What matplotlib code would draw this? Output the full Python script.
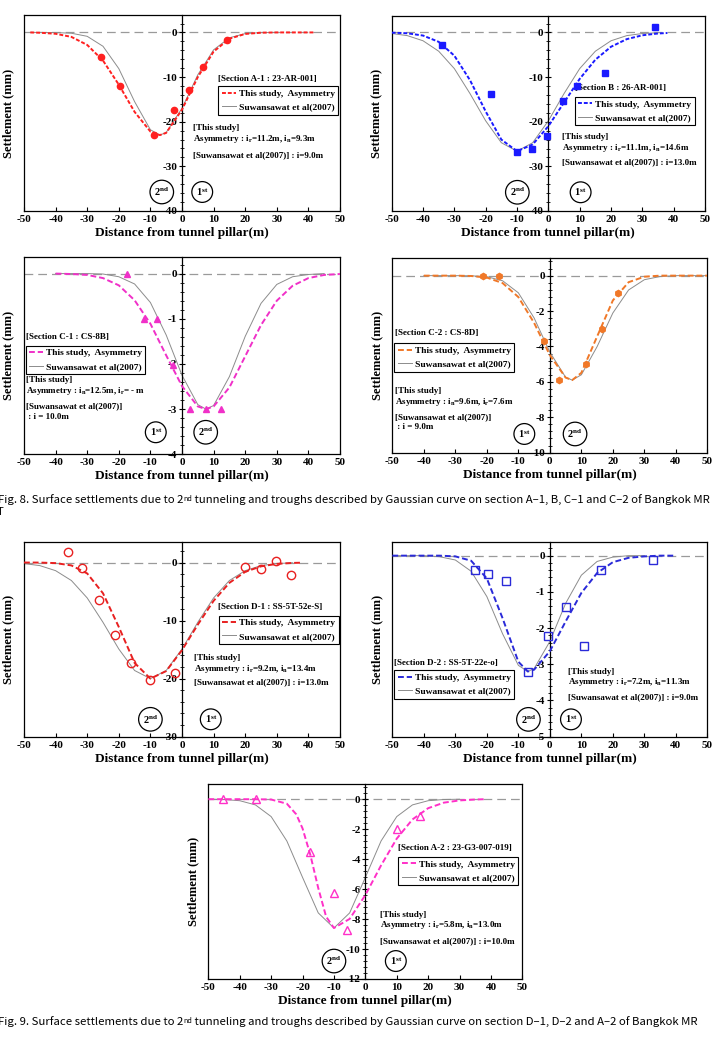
import matplotlib
matplotlib.use('Agg')
import matplotlib.pyplot as plt
from matplotlib.ticker import MultipleLocator
from matplotlib.text import Annotation

# ---- data ----
# Section A-1
a1_pts_x = [-25.6, -19.6, -8.9, -2.4, 2.3, 6.5, 14.3]
a1_pts_y = [-5.6, -11.9, -22.9, -17.3, -12.8, -7.8, -1.8]
a1_fit_x = [-48, -45, -40, -35, -30, -25, -20, -15, -10, -7, -5, 0, 5, 10, 15, 20, 25, 30, 35, 42]
a1_fit_y = [0, -0.07, -0.3, -1.0, -2.8, -6.3, -11.7, -17.8, -22.2, -23.0, -22.5, -17.3, -10.0, -4.3, -1.4, -0.34, -0.06, 0, 0, 0]
a1_ref_x = [-48, -45, -40, -35, -30, -25, -20, -15, -10, -7, -5, 0, 5, 10, 15, 20, 25, 30]
a1_ref_y = [0, 0, -0.03, -0.18, -0.87, -3.1, -8.1, -15.5, -21.8, -23.0, -22.4, -17.0, -9.5, -3.9, -1.2, -0.26, -0.04, 0]

# Section B
b_pts_x = [-34.0, -18.4, -10.0, -5.3, -0.3, 4.6, 9.3, 18.2, 34.0]
b_pts_y = [-2.7, -13.7, -26.8, -26.1, -23.2, -15.3, -11.9, -9.0, 1.3]
b_fit_x = [-50, -45, -40, -35, -30, -25, -20, -15, -10, -5, 0, 5, 10, 15, 20, 25, 30, 35, 38]
b_fit_y = [-0.04, -0.18, -0.69, -2.1, -5.2, -10.7, -17.7, -24.0, -26.6, -25.1, -21.0, -15.7, -10.4, -6.1, -3.2, -1.5, -0.63, -0.23, -0.12]
b_ref_x = [-50, -45, -40, -35, -30, -25, -20, -15, -10, -5, 0, 5, 10, 15, 20, 25, 30, 35]
b_ref_y = [-0.23, -0.71, -1.86, -4.2, -8.1, -13.7, -19.8, -24.7, -26.6, -24.7, -19.8, -13.7, -8.1, -4.2, -1.86, -0.71, -0.23, -0.07]

# Section C-1
c1_pts_x = [-17.5, -12.0, -7.8, -2.7, 2.5, 7.6, 12.4]
c1_pts_y = [0, -1.0, -1.0, -2.02, -3.0, -3.0, -3.0]
c1_fit_x = [-40, -35, -30, -25, -20, -15, -10, -5, 0, 5, 7.6, 10, 15, 20, 25, 30, 35, 40, 45, 50]
c1_fit_y = [0, -0.01, -0.03, -0.10, -0.26, -0.59, -1.11, -1.81, -2.49, -2.94, -3.0, -2.94, -2.52, -1.83, -1.14, -0.60, -0.27, -0.10, -0.03, -0.01]
c1_ref_x = [-40, -35, -30, -25, -20, -15, -10, -5, 0, 5, 7.6, 10, 15, 20, 25, 30, 35, 40, 45]
c1_ref_y = [0, 0, 0, -0.01, -0.07, -0.23, -0.64, -1.36, -2.25, -2.90, -3.0, -2.92, -2.28, -1.39, -0.66, -0.24, -0.07, -0.02, 0]

# Section C-2
c2_pts_x = [-21.3, -16.1, -1.8, 2.8, 11.6, 16.5, 21.6]
c2_pts_y = [0, 0, -3.69, -5.91, -5.0, -3.0, -1.0]
c2_fit_x = [-40, -35, -30, -25, -20, -15, -10, -5, 0, 5, 7.1, 10, 15, 20, 25, 30, 35, 40, 45, 50]
c2_fit_y = [0, 0, 0, -0.02, -0.11, -0.42, -1.21, -2.67, -4.49, -5.76, -5.9, -5.49, -3.44, -1.40, -0.37, -0.06, 0, 0, 0, 0]
c2_ref_x = [-40, -35, -30, -25, -20, -15, -10, -5, 0, 5, 7.1, 10, 15, 20, 25, 30, 35, 40, 45, 50]
c2_ref_y = [0, 0, 0, -0.01, -0.06, -0.29, -0.97, -2.39, -4.32, -5.74, -5.9, -5.60, -4.01, -2.11, -0.81, -0.23, -0.05, 0, 0, 0]

# Section D-1
d1_pts_x = [-36.0, -31.6, -26.4, -21.2, -16.1, -10.0, -2.1, 19.9, 24.9, 29.7, 34.4]
d1_pts_y = [1.84, -0.92, -6.4, -12.5, -17.3, -20.2, -19.0, -0.69, -1.15, 0.29, -2.07]
d1_fit_x = [-50, -45, -40, -35, -30, -25, -20, -15, -10, -5, 0, 5, 10, 15, 20, 25, 30, 35, 38]
d1_fit_y = [0, -0.01, -0.10, -0.50, -1.88, -5.3, -11.1, -17.3, -20.0, -18.7, -15.1, -10.7, -6.6, -3.5, -1.6, -0.66, -0.23, -0.07, -0.03]
d1_ref_x = [-50, -45, -40, -35, -30, -25, -20, -15, -10, -5, 0, 5, 10, 15, 20, 25, 30, 35]
d1_ref_y = [-0.18, -0.53, -1.40, -3.1, -6.1, -10.3, -14.9, -18.6, -20.0, -18.6, -14.9, -10.3, -6.1, -3.1, -1.40, -0.53, -0.18, -0.05]

# Section D-2
d2_pts_x = [-23.7, -19.7, -13.8, -6.8, -0.7, 5.1, 10.7, 16.2, 32.6]
d2_pts_y = [-0.40, -0.51, -0.70, -3.21, -2.21, -1.41, -2.50, -0.40, -0.11]
d2_fit_x = [-50, -45, -40, -35, -30, -25, -20, -15, -10, -7, -5, 0, 5, 10, 15, 20, 25, 30, 35, 40]
d2_fit_y = [0, 0, 0, 0, -0.02, -0.14, -0.63, -1.73, -2.93, -3.2, -3.15, -2.64, -1.82, -1.03, -0.48, -0.18, -0.06, -0.02, 0, 0]
d2_ref_x = [-50, -45, -40, -35, -30, -25, -20, -15, -10, -7, -5, 0, 5, 10, 15, 20, 25, 30]
d2_ref_y = [0, 0, 0, -0.03, -0.12, -0.43, -1.13, -2.16, -3.03, -3.2, -3.12, -2.37, -1.32, -0.54, -0.16, -0.04, 0, 0]

# Section A-2
a2_pts_x = [-45.2, -34.9, -17.5, -10.1, -5.9, 10.0, 17.4]
a2_pts_y = [0, 0, -3.53, -6.24, -8.71, -2.02, -1.11]
a2_fit_x = [-50, -45, -40, -35, -30, -25, -22, -20, -17.5, -15, -12.5, -10, -5, 0, 5, 10, 15, 20, 25, 30, 35, 38]
a2_fit_y = [0, 0, 0, 0, -0.02, -0.30, -1.01, -1.95, -3.73, -5.93, -7.84, -8.6, -7.99, -6.40, -4.42, -2.63, -1.35, -0.60, -0.23, -0.08, -0.02, 0]
a2_ref_x = [-50, -45, -40, -35, -30, -25, -20, -15, -10, -5, 0, 5, 10, 15, 20, 25, 30]
a2_ref_y = [0, -0.02, -0.10, -0.38, -1.16, -2.79, -5.22, -7.59, -8.6, -7.59, -5.22, -2.79, -1.16, -0.38, -0.10, -0.02, 0]

x_ticks = [-50, -40, -30, -20, -10, 0, 10, 20, 30, 40, 50]
leg_labels = ['This study,  Asymmetry', 'Suwansawat et al(2007)']

plt.rcParams['font.family'] = ['Liberation Serif', 'DejaVu Serif']
plt.rcParams['font.weight'] = 'bold'
plt.rcParams['axes.unicode_minus'] = False
plt.rcParams['mathtext.fontset'] = 'custom'
plt.rcParams['mathtext.rm'] = 'Liberation Serif:bold'
plt.rcParams['mathtext.bf'] = 'Liberation Serif:bold'
plt.rcParams['mathtext.it'] = 'Liberation Serif:italic:bold'

fig = plt.figure(figsize=(7.14, 10.43), dpi=100)

ND = r'2$^{\mathrm{nd}}$'
ST = r'1$^{\mathrm{st}}$'


def draw(rect, ylim, step, px, py, fx, fy, rx, ry, color, marker, filled,
         dash, section, sec_pos, leg_pos, notes, note_x, note_y, circ, circ_y):
    ax = fig.add_axes(rect)
    ax.set_xlim(-50, 50)
    ax.set_ylim(*ylim)
    ax.axhline(0, color='#9a9a9a', lw=0.9, ls=(0, (7, 4)), zorder=1)
    l_ref, = ax.plot(rx, ry, color='#8c8c8c', lw=0.7, zorder=2)
    l_fit, = ax.plot(fx, fy, color=color, lw=1.4, ls=(0, dash), zorder=3)
    if filled:
        ax.plot(px, py, ls='none', marker=marker, ms=4.5, mfc=color, mec=color, zorder=4)
    else:
        ax.plot(px, py, ls='none', marker=marker, ms=6, mfc='none', mec=color, mew=1.0, zorder=4)

    # y axis sits on x = 0, the frame is drawn around
    ax.spines['left'].set_position(('data', 0))
    for s in ax.spines.values():
        s.set_linewidth(0.9)
    ax.plot([0, 0], [0, 1], transform=ax.transAxes, color='k', lw=0.9, clip_on=False)
    ax.set_xticks(x_ticks)
    ax.yaxis.set_major_locator(MultipleLocator(step))
    ax.yaxis.set_minor_locator(MultipleLocator(step / 5))
    ax.tick_params(axis='x', direction='in', length=3, labelsize=8, pad=3)
    ax.tick_params(axis='y', which='major', direction='inout', length=5, labelsize=8, pad=1)
    ax.tick_params(axis='y', which='minor', direction='inout', length=3)
    for lab in ax.get_xticklabels() + ax.get_yticklabels():
        lab.set_fontweight('bold')
    ax.set_xlabel('Distance from tunnel pillar(m)', fontsize=9.5, fontweight='bold', labelpad=2)
    ax.set_ylabel('Settlement (mm)', fontsize=9, fontweight='bold')
    ax.yaxis.set_label_coords(-0.03, 0.5)

    ax.text(sec_pos[0], sec_pos[1], section, transform=ax.transAxes,
            fontsize=6.5, fontweight='bold', va='center', ha='left')
    leg = ax.legend([l_fit, l_ref], leg_labels, loc='upper left', bbox_to_anchor=leg_pos,
                    borderaxespad=0, fancybox=False, edgecolor='k', framealpha=1,
                    prop={'size': 6.8, 'weight': 'bold'}, handlelength=1.5, handletextpad=0.3,
                    labelspacing=0.5, borderpad=0.35)
    leg.get_frame().set_linewidth(0.8)
    for t, yy in zip(notes, note_y):
        ax.text(note_x, yy, t, transform=ax.transAxes, fontsize=6.5, fontweight='bold',
                va='center', ha='left')
    for t, xx in circ:
        ax.text(xx, circ_y, t, transform=ax.transAxes, fontsize=7.5, fontweight='bold',
                ha='center', va='center',
                bbox=dict(boxstyle='circle,pad=0.4', fc='white', ec='k', lw=0.9))
    return ax


draw([0.0336, 0.7977, 0.4426, 0.1879], (-40, 3.9), 10, a1_pts_x, a1_pts_y, a1_fit_x, a1_fit_y,
     a1_ref_x, a1_ref_y, '#ff2020', 'o', True, (2, 1), '[Section A-1 : 23-AR-001]',
     (0.615, 0.675), (0.615, 0.638),
     ['[This study]', r'Asymmetry : i$_\mathrm{r}$=11.2m, i$_\mathrm{n}$=9.3m',
      '[Suwansawat et al(2007)] : i=9.0m'], 0.536, [0.425, 0.366, 0.286],
     [(ND, 0.436), (ST, 0.564)], 0.097)

draw([0.5486, 0.7977, 0.4388, 0.1870], (-40, 3.7), 10, b_pts_x, b_pts_y, b_fit_x, b_fit_y,
     b_ref_x, b_ref_y, '#1a1aff', 's', True, (2, 1), '[Section B : 26-AR-001]',
     (0.585, 0.629), (0.585, 0.586),
     ['[This study]', r'Asymmetry : i$_\mathrm{r}$=11.1m, i$_\mathrm{n}$=14.6m',
      '[Suwansawat et al(2007)] : i=13.0m'], 0.545, [0.381, 0.321, 0.248],
     [(ND, 0.401), (ST, 0.603)], 0.096)

draw([0.0336, 0.5644, 0.4426, 0.1889], (-4, 0.36), 1, c1_pts_x, c1_pts_y, c1_fit_x, c1_fit_y,
     c1_ref_x, c1_ref_y, '#f030c8', '^', True, (3, 1.5), '[Section C-1 : CS-8B]',
     (0.006, 0.596), (0.006, 0.552),
     ['[This study]', r'Asymmetry : i$_\mathrm{n}$=12.5m, i$_\mathrm{r}$= - m',
      '[Suwansawat et al(2007)]', ' : i = 10.0m'], 0.006, [0.376, 0.323, 0.242, 0.190],
     [(ST, 0.417), (ND, 0.575)], 0.112)

draw([0.5495, 0.5660, 0.4412, 0.1867], (-10, 1.0), 2, c2_pts_x, c2_pts_y, c2_fit_x, c2_fit_y,
     c2_ref_x, c2_ref_y, '#f07828', 'h', True, (3, 1.5), '[Section C-2 : CS-8D]',
     (0.008, 0.613), (0.006, 0.562),
     ['[This study]', r'Asymmetry : i$_\mathrm{n}$=9.6m, i$_\mathrm{r}$=7.6m',
      '[Suwansawat et al(2007)]', ' : i = 9.0m'], 0.008, [0.318, 0.262, 0.180, 0.130],
     [(ST, 0.419), (ND, 0.580)], 0.096)

draw([0.0336, 0.2937, 0.4426, 0.1870], (-30, 3.6), 10, d1_pts_x, d1_pts_y, d1_fit_x, d1_fit_y,
     d1_ref_x, d1_ref_y, '#e82020', 'o', False, (3, 1.5), '[Section D-1 : SS-5T-52e-S]',
     (0.615, 0.667), (0.617, 0.621),
     ['[This study]', r'Asymmetry : i$_\mathrm{r}$=9.2m, i$_\mathrm{n}$=13.4m',
      '[Suwansawat et al(2007)] : i=13.0m'], 0.539, [0.405, 0.347, 0.277],
     [(ND, 0.400), (ST, 0.591)], 0.089)

draw([0.5495, 0.2937, 0.4412, 0.1864], (-5, 0.37), 1, d2_pts_x, d2_pts_y, d2_fit_x, d2_fit_y,
     d2_ref_x, d2_ref_y, '#2a2ad8', 's', False, (3, 1.5), '[Section D-2 : SS-5T-22e-o]',
     (0.006, 0.379), (0.006, 0.343),
     ['[This study]', r'Asymmetry : i$_\mathrm{r}$=7.2m, i$_\mathrm{n}$=11.3m',
      '[Suwansawat et al(2007)] : i=9.0m'], 0.557, [0.334, 0.280, 0.201],
     [(ND, 0.432), (ST, 0.567)], 0.089)

draw([0.2918, 0.0614, 0.4398, 0.1867], (-12, 1.0), 2, a2_pts_x, a2_pts_y, a2_fit_x, a2_fit_y,
     a2_ref_x, a2_ref_y, '#ff30c8', '^', False, (3, 1.5), '[Section A-2 : 23-G3-007-019]',
     (0.605, 0.671), (0.605, 0.627),
     ['[This study]', r'Asymmetry : i$_\mathrm{r}$=5.8m, i$_\mathrm{n}$=13.0m',
      '[Suwansawat et al(2007)] : i=10.0m'], 0.547, [0.327, 0.276, 0.195],
     [(ND, 0.400), (ST, 0.597)], 0.092)

# captions with a superscript "nd"
cap_font = ['Noto Sans CJK KR', 'DejaVu Sans']


def caption(y, head, tail):
    t1 = fig.text(-0.003, y, head, family=cap_font, fontsize=8.2, weight='normal', va='center')
    t2 = Annotation('nd', xy=(1, 1), xycoords=t1, va='top', ha='left',
                    family=cap_font, fontsize=5.2, weight='normal')
    fig.add_artist(t2)
    t3 = Annotation(tail, xy=(1, 0.5), xycoords=(t2, t1), va='center', ha='left',
                    family=cap_font, fontsize=8.2, weight='normal')
    fig.add_artist(t3)


caption(1 - 500 / 1043, 'Fig. 8. Surface settlements due to 2',
        ' tunneling and troughs described by Gaussian curve on section A\u20131, B, C\u20131 and C\u20132 of Bangkok MR')
fig.text(-0.004, 1 - 512 / 1043, 'T', family=cap_font, fontsize=8.2, weight='normal', va='center')
caption(1 - 1022 / 1043, 'Fig. 9. Surface settlements due to 2',
        ' tunneling and troughs described by Gaussian curve on section D\u20131, D\u20132 and A\u20132 of Bangkok MR')

fig.savefig('out.png', dpi=100)
